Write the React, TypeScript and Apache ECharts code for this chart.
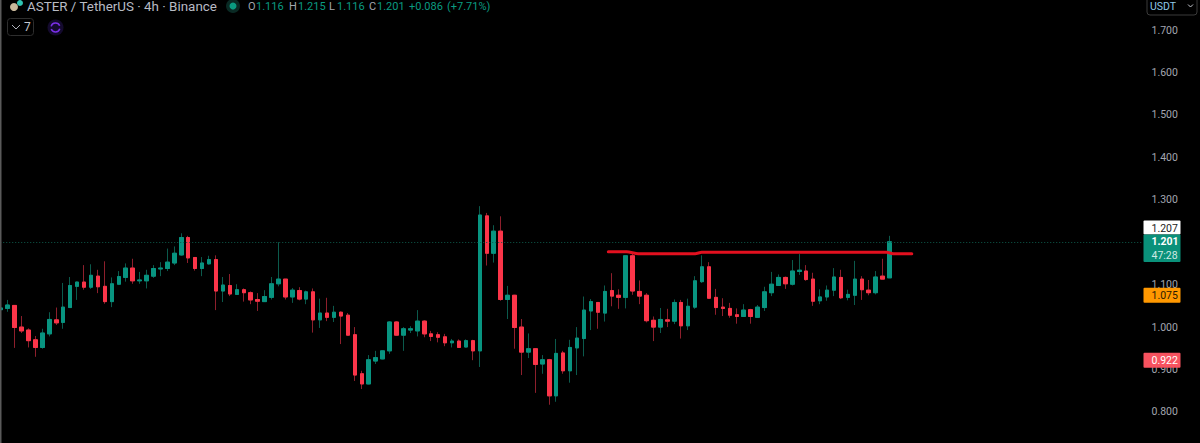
import React, { useEffect, useRef } from "react";
import * as echarts from "echarts";

const opens = [1.041,1.044,1.051,1.000,.993,.970,.952,.984,1.017,1.011,1.046,1.096,1.106,1.094,1.120,1.096,1.060,1.101,1.117,1.139,1.109,1.109,1.120,1.137,1.138,1.151,1.170,1.211,1.164,1.138,1.149,1.159,1.085,1.098,1.077,1.088,1.081,1.065,1.060,1.070,1.102,1.113,1.071,1.086,1.066,1.083,1.017,1.033,1.023,1.035,1.028,.982,.890,.866,.920,.925,.944,1.012,.981,.993,.991,1.014,.984,.982,.977,.963,.967,.953,.968,.944,1.262,1.174,1.226,1.065,1.075,1.000,.941,.949,.913,.923,.838,.939,.897,.951,.973,1.038,1.058,1.033,1.086,1.075,1.070,1.168,1.084,1.075,1.016,1.000,1.017,1.014,1.058,1.003,1.047,1.107,1.142,1.070,1.047,1.044,1.029,1.025,1.041,1.023,1.046,1.081,1.098,1.117,1.101,1.131,1.132,1.113,1.062,1.071,1.087,1.117,1.070,1.075,1.113,1.087,1.081,1.120,1.116];
const highs = [1.046,1.064,1.051,1.026,.997,.979,.996,1.035,1.046,1.104,1.118,1.107,1.146,1.148,1.135,1.155,1.117,1.132,1.150,1.161,1.130,1.135,1.146,1.153,1.185,1.190,1.221,1.215,1.165,1.165,1.168,1.169,1.118,1.125,1.101,1.091,1.084,1.080,1.087,1.118,1.200,1.113,1.092,1.094,1.086,1.091,1.067,1.069,1.050,1.037,1.033,1.000,.897,.934,.944,.945,1.014,1.014,1.000,1.002,1.040,1.016,.991,.988,.984,.972,.971,.971,.970,1.285,1.269,1.240,1.261,1.097,1.076,1.019,.985,.950,.934,.925,.972,.944,.970,1.000,1.072,1.066,1.058,1.098,1.127,1.089,1.168,1.174,1.110,1.080,1.025,1.045,1.043,1.065,1.064,1.067,1.120,1.169,1.153,1.090,1.068,1.057,1.044,1.054,1.043,1.052,1.095,1.130,1.124,1.119,1.158,1.172,1.146,1.128,1.089,1.098,1.139,1.135,1.088,1.156,1.120,1.111,1.132,1.161,1.215];
const lows = [1.040,1.036,.951,.986,.952,.930,.949,.978,1.005,.996,1.046,1.064,1.088,1.090,1.080,1.055,1.047,1.099,1.107,1.102,1.102,1.091,1.116,1.120,1.132,1.146,1.168,1.151,1.133,1.120,1.147,1.040,1.059,1.073,1.076,1.060,1.054,1.038,1.060,1.065,1.096,1.065,1.057,1.063,1.054,.987,.998,1.014,1.012,.960,.980,.873,.854,.865,.913,.924,.937,.980,.944,.986,.978,.976,.967,.964,.955,.952,.951,.952,.922,.906,1.145,1.152,1.062,1.019,.949,.887,.927,.845,.890,.817,.824,.890,.869,.887,.931,.993,.996,1.013,1.049,1.043,1.044,1.076,1.054,1.011,.967,.986,1.000,1.007,.973,.993,1.043,1.104,1.067,1.029,1.026,1.022,1.008,1.024,1.008,1.022,1.038,1.073,1.097,1.090,1.098,1.123,1.109,1.050,1.054,1.062,1.073,1.066,1.063,1.052,1.064,1.075,1.077,1.113,1.116];
const closes = [1.045,1.052,.999,.991,.968,.952,.986,1.018,1.010,1.047,1.098,1.106,1.094,1.122,1.095,1.060,1.102,1.119,1.139,1.109,1.111,1.122,1.138,1.139,1.153,1.174,1.211,1.163,1.138,1.151,1.159,1.085,1.099,1.078,1.088,1.081,1.064,1.061,1.072,1.102,1.113,1.071,1.087,1.066,1.083,1.017,1.033,1.023,1.035,1.026,.981,.887,.866,.923,.928,.944,1.012,.981,.996,.996,1.014,.984,.978,.976,.963,.967,.952,.968,.944,1.264,1.174,1.226,1.065,1.075,.999,.941,.949,.912,.923,.838,.938,.897,.952,.974,1.040,1.060,1.035,1.084,1.073,1.070,1.168,1.085,1.073,1.015,1.000,1.018,1.014,1.058,1.003,1.049,1.109,1.142,1.068,1.046,1.044,1.028,1.025,1.040,1.025,1.047,1.083,1.101,1.117,1.102,1.132,1.134,1.112,1.061,1.071,1.087,1.118,1.069,1.077,1.113,1.088,1.081,1.118,1.113,1.201];

const drawnLineX = [87.5, 90.15, 91.8, 100, 100.95, 127.6, 128.5, 131.2];
const drawnLineY = [1.1776, 1.1776, 1.1729, 1.1729, 1.1762, 1.1762, 1.1729, 1.1729];

const lastPrice = 1.201;
const shownTicks = ["1.700", "1.600", "1.500", "1.400", "1.300", "1.100", "1.000", "0.900", "0.800"];
const slotCount = 165;
const slots = Array.from({ length: slotCount }, (_, i) => String(i));

const UP = "#089480";
const DOWN = "#fb3549";
const UP_WICK = "#0b5a4c";
const DOWN_WICK = "#8e1f2c";
const FONT = "Roboto, sans-serif";

export default function App() {
  const ref = useRef<HTMLDivElement | null>(null);
  useEffect(() => {
    document.body.style.margin = "0";
    document.body.style.background = "#000";
    const chart = echarts.init(ref.current!, undefined, { renderer: "svg" });
    const wickData = opens.map((o, i) => [o, closes[i], lows[i], highs[i]]);
    const bodyData = opens.map((o, i) => [o, closes[i], Math.min(o, closes[i]), Math.max(o, closes[i])]);
    chart.setOption({
      animation: false,
      backgroundColor: "#000000",
      grid: { left: -2.77, top: -12.44, width: 1145.8, height: 466.84, outerBoundsMode: "none", containLabel: false },
      xAxis: [
        { type: "category", data: slots, show: false, boundaryGap: true },
        { type: "value", min: -0.5, max: slotCount - 0.5, show: false },
      ],
      yAxis: {
        type: "value", position: "right", min: 0.7, max: 1.8, interval: 0.1, scale: true,
        axisLine: { show: false }, axisTick: { show: false }, splitLine: { show: false },
        axisLabel: {
          color: "#a3a6af", fontSize: 10.5, fontFamily: FONT, margin: 8.5,
          formatter: (v: number) => (shownTicks.includes(v.toFixed(3)) ? v.toFixed(3) : ""),
        },
      },
      series: [
        {
          type: "candlestick", name: "wicks", data: wickData, barWidth: 4, clip: false, z: 2,
          itemStyle: { color: UP, color0: DOWN, borderColor: UP_WICK, borderColor0: DOWN_WICK, borderWidth: 1 },
          markLine: {
            silent: true, symbol: "none", label: { show: false },
            lineStyle: { color: "#0e5a4b", type: [1, 2], width: 1 },
            data: [{ yAxis: lastPrice }],
          },
        },
        {
          type: "candlestick", name: "bodies", data: bodyData, barWidth: 4, clip: false, z: 3,
          itemStyle: { color: UP, color0: DOWN, borderColor: UP, borderColor0: DOWN, borderWidth: 1 },
        },
        {
          type: "line", name: "level", xAxisIndex: 1, data: drawnLineX.map((x, i) => [x, drawnLineY[i]]),
          showSymbol: false, symbol: "none", smooth: 0.25, z: 4,
          lineStyle: { color: "#e3101f", width: 3, cap: "round" },
        },
      ],
    });

    const py = (v: number) => chart.convertToPixel({ yAxisIndex: 0 }, v) as number;
    const tagFont = { fontSize: 10.5, fontFamily: FONT, verticalAlign: "middle" };
    const tag = (v: number, bg: string, fg: string) => {
      const c = py(v);
      return [
        { type: "rect", z: 20, shape: { x: 1143.5, y: c - 7.5, width: 37, height: 15, r: 1 }, style: { fill: bg } },
        { type: "text", z: 21, x: 1151.5, y: c, style: { text: v.toFixed(3), fill: fg, ...tagFont } },
      ];
    };
    const headGreen = "#0a9a80";
    const headGrey = "#a3a6af";
    const seg = (x: number, text: string, fill: string) => ({
      type: "text", z: 21, x, y: 6, style: { text, fill, font: `11px ${FONT}`, verticalAlign: "middle" },
    });
    chart.setOption({
      graphic: [
        { type: "rect", z: 19, shape: { x: 0, y: 0, width: 1.5, height: 443 }, style: { fill: "#5a5a5a" } },
        // header
        { type: "circle", z: 20, shape: { cx: 14, cy: 7, r: 4 }, style: { fill: "#c9b79a" } },
        { type: "circle", z: 20, shape: { cx: 20, cy: 3, r: 3 }, style: { fill: "#2fc4b2" } },
        { type: "text", z: 21, x: 27, y: 6, style: { text: "ASTER / TetherUS · 4h · Binance", fill: "#b8bbc4", font: `13.4px ${FONT}`, verticalAlign: "middle" } },
        { type: "circle", z: 20, shape: { cx: 233, cy: 6, r: 7 }, style: { fill: "#0a2a24" } },
        { type: "circle", z: 21, shape: { cx: 233, cy: 6, r: 3.5 }, style: { fill: headGreen } },
        seg(248, "O", headGrey), seg(256, "1.116", headGreen),
        seg(289, "H", headGrey), seg(298, "1.215", headGreen),
        seg(329, "L", headGrey), seg(337, "1.116", headGreen),
        seg(369, "C", headGrey), seg(377, "1.201", headGreen),
        seg(409, "+0.086", headGreen), seg(447, "(+7.71%)", headGreen),
        // collapse box
        { type: "rect", z: 20, shape: { x: 7.5, y: 18.5, width: 26, height: 17, r: 3 }, style: { fill: "#000", stroke: "#2e2e2e", lineWidth: 1 } },
        { type: "polyline", z: 21, shape: { points: [[12, 25], [16, 29], [20, 25]] }, style: { stroke: "#b0b3bb", lineWidth: 1, fill: "none" } },
        { type: "text", z: 21, x: 24, y: 27, style: { text: "7", fill: "#c4c7cf", font: `12px ${FONT}`, verticalAlign: "middle" } },
        // purple sync icon
        { type: "circle", z: 20, shape: { cx: 55.5, cy: 27.5, r: 8 }, style: { fill: "#140a2e" } },
        { type: "arc", z: 21, shape: { cx: 55.5, cy: 27.5, r: 4.5, startAngle: 3.4, endAngle: 5.9 }, style: { stroke: "#7a2fe8", lineWidth: 1.5, fill: "none" } },
        { type: "arc", z: 21, shape: { cx: 55.5, cy: 27.5, r: 4.5, startAngle: 0.3, endAngle: 2.8 }, style: { stroke: "#7a2fe8", lineWidth: 1.5, fill: "none" } },
        // currency box
        { type: "rect", z: 20, shape: { x: 1147, y: -5, width: 50, height: 20, r: 3 }, style: { fill: "#000", stroke: "#3a3a3a", lineWidth: 1 } },
        { type: "text", z: 21, x: 1150, y: 6, style: { text: "USDT", fill: "#8fc7e6", ...tagFont } },
        { type: "polyline", z: 21, shape: { points: [[1188, 4.5], [1190.5, 7], [1193, 4.5]] }, style: { stroke: "#c4c7cf", lineWidth: 1, fill: "none" } },
        // price tags
        { type: "rect", z: 20, shape: { x: 1143.5, y: 220.5, width: 37, height: 14, r: 1 }, style: { fill: "#ffffff" } },
        { type: "text", z: 21, x: 1151.5, y: 228, style: { text: "1.207", fill: "#222", ...tagFont } },
        { type: "rect", z: 20, shape: { x: 1143.5, y: 234.5, width: 37, height: 27.5, r: 1 }, style: { fill: "#0a917a" } },
        { type: "text", z: 21, x: 1151.5, y: py(lastPrice), style: { text: lastPrice.toFixed(3), fill: "#ffffff", fontWeight: "bold", ...tagFont } },
        { type: "text", z: 21, x: 1151.5, y: 255, style: { text: "47:28", fill: "#cfe9e3", ...tagFont } },
        ...tag(1.075, "#ff9800", "#2a1a00"),
        ...tag(0.922, "#f7525f", "#ffffff"),
      ],
    });
    return () => chart.dispose();
  }, []);
  return <div ref={ref} style={{ width: 1200, height: 443 }} />;
}
